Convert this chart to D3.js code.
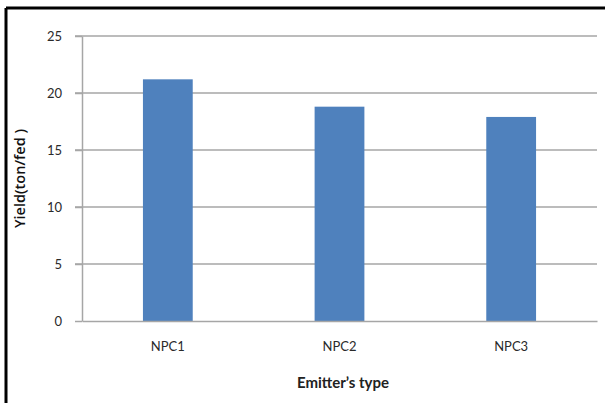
<!DOCTYPE html>
<html>
<head>
<meta charset="utf-8">
<script src="https://cdn.jsdelivr.net/npm/d3@7"></script>
<style>
  html, body { margin: 0; padding: 0; background: #fff; }
  svg { display: block; }
</style>
</head>
<body>
<svg id="chart" width="605" height="403"></svg>
<script>
// Yield per emitter type
const categories = ["NPC1", "NPC2", "NPC3"];
const yields = [21.2, 18.8, 17.9];
const yTicks = [0, 5, 10, 15, 20, 25];

const svg = d3.select("#chart");
const W = 605, H = 403;
const margin = { left: 82, right: 8, top: 36, bottom: 82 };
const font = "Lato, 'Open Sans', sans-serif";

// outer frame (top and left edges visible)
svg.append("line").attr("x1", 6).attr("x2", W).attr("y1", 8).attr("y2", 8)
  .attr("stroke", "#000").attr("stroke-width", 3);
svg.append("line").attr("x1", 6).attr("x2", 6).attr("y1", 8).attr("y2", H)
  .attr("stroke", "#000").attr("stroke-width", 3);

const x = d3.scaleBand().domain(categories)
  .range([margin.left, W - margin.right]).paddingInner(0.71).paddingOuter(0.355);
const y = d3.scaleLinear().domain([0, 25]).range([H - margin.bottom, margin.top]);

const gridColor = "#a6a6a6";

// horizontal gridlines
svg.append("g").selectAll("line").data(yTicks.filter(d => d > 0)).join("line")
  .attr("x1", margin.left - 7).attr("x2", W - margin.right)
  .attr("y1", d => y(d)).attr("y2", d => y(d))
  .attr("stroke", gridColor).attr("stroke-width", 1.5);

// y axis
const yAxis = svg.append("g").attr("transform", `translate(${margin.left},0)`)
  .call(d3.axisLeft(y).tickValues(yTicks).tickSize(7).tickPadding(13).tickSizeOuter(0));
yAxis.select(".domain").attr("stroke", gridColor).attr("stroke-width", 1.5);
yAxis.selectAll(".tick line").attr("stroke", gridColor).attr("stroke-width", 1.5);
yAxis.selectAll("text").attr("font-family", font)
  .attr("font-size", 13).attr("fill", "#2a2a2a");

// bars
svg.append("g").selectAll("rect").data(categories).join("rect")
  .attr("x", d => x(d)).attr("width", x.bandwidth())
  .attr("y", (d, i) => y(yields[i]))
  .attr("height", (d, i) => y(0) - y(yields[i]))
  .attr("fill", "#4f81bd");

// x axis
const xAxis = svg.append("g").attr("transform", `translate(0,${y(0)})`)
  .call(d3.axisBottom(x).tickSize(0).tickPadding(21).tickSizeOuter(0));
xAxis.select(".domain").attr("stroke", gridColor).attr("stroke-width", 1.5);
xAxis.selectAll("text").attr("font-family", font)
  .attr("font-size", 13).attr("fill", "#2a2a2a");

// axis titles
svg.append("text").attr("x", 343).attr("y", 388)
  .attr("text-anchor", "middle").attr("font-family", font)
  .attr("font-size", 15).attr("font-weight", "bold").attr("fill", "#222")
  .text("Emitter\u2019s type");

svg.append("text")
  .attr("transform", `translate(25,${(y(0) + y(25)) / 2}) rotate(-90)`)
  .attr("text-anchor", "middle").attr("font-family", "'Open Sans', sans-serif")
  .attr("font-size", 14.5).attr("font-weight", 600).attr("fill", "#111")
  .text("Yield(ton/fed )");
</script>
</body>
</html>
